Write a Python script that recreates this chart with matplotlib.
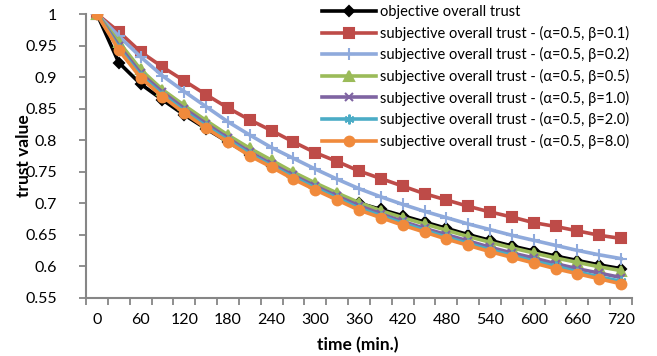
import numpy as np
import matplotlib
matplotlib.use("Agg")
import matplotlib.pyplot as plt
from matplotlib.ticker import FixedLocator, FuncFormatter

plt.rcParams['font.family'] = ['Lato', 'DejaVu Sans']

# time axis (min.)
time_min = np.arange(0, 721, 30)

objective = [1.000, 0.923, 0.889, 0.864, 0.840, 0.818, 0.797, 0.777, 0.759, 0.742, 0.727,
             0.713, 0.700, 0.690, 0.680, 0.670, 0.660, 0.650, 0.641, 0.632, 0.624,
             0.616, 0.609, 0.602, 0.596]
beta_01 = [1.000, 0.972, 0.940, 0.916, 0.894, 0.872, 0.851, 0.832, 0.815, 0.797, 0.780,
           0.766, 0.751, 0.739, 0.727, 0.715, 0.705, 0.695, 0.686, 0.678, 0.669,
           0.663, 0.656, 0.649, 0.644]
beta_02 = [1.000, 0.965, 0.932, 0.902, 0.877, 0.853, 0.829, 0.808, 0.788, 0.771, 0.754,
           0.738, 0.723, 0.710, 0.698, 0.687, 0.677, 0.667, 0.658, 0.649, 0.641,
           0.633, 0.625, 0.618, 0.612]
beta_05 = [1.000, 0.956, 0.912, 0.880, 0.855, 0.831, 0.808, 0.787, 0.768, 0.749, 0.732,
           0.716, 0.701, 0.688, 0.677, 0.667, 0.657, 0.647, 0.638, 0.629, 0.621,
           0.613, 0.606, 0.599, 0.593]
beta_10 = [1.000, 0.950, 0.906, 0.876, 0.850, 0.826, 0.803, 0.781, 0.762, 0.744, 0.727,
           0.711, 0.696, 0.683, 0.671, 0.660, 0.650, 0.640, 0.630, 0.621, 0.613,
           0.604, 0.596, 0.589, 0.582]
beta_20 = [1.000, 0.946, 0.902, 0.872, 0.846, 0.822, 0.800, 0.778, 0.759, 0.741, 0.724,
           0.708, 0.692, 0.680, 0.668, 0.657, 0.646, 0.636, 0.626, 0.617, 0.608,
           0.600, 0.591, 0.583, 0.576]
beta_80 = [1.000, 0.943, 0.899, 0.869, 0.843, 0.819, 0.797, 0.775, 0.757, 0.738, 0.721,
           0.705, 0.689, 0.677, 0.665, 0.654, 0.643, 0.633, 0.623, 0.614, 0.605,
           0.596, 0.588, 0.580, 0.572]

labels = ["objective overall trust",
          "subjective overall trust - (α=0.5, β=0.1)",
          "subjective overall trust - (α=0.5, β=0.2)",
          "subjective overall trust - (α=0.5, β=0.5)",
          "subjective overall trust - (α=0.5, β=1.0)",
          "subjective overall trust - (α=0.5, β=2.0)",
          "subjective overall trust - (α=0.5, β=8.0)"]
series = [objective, beta_01, beta_02, beta_05, beta_10, beta_20, beta_80]
colors = ["#000000", "#BE4B48", "#8FAADC", "#9BBB59", "#7F64A2", "#4BACC6", "#F08A3C"]
markers = ["D", "s", "+", "^", "x", (6, 2, 0), "o"]
msizes = [5, 6.5, 8, 6.5, 6, 7, 7]

fig = plt.figure(figsize=(6.57, 3.56), dpi=100)
ax = fig.add_axes([86/657, 1 - 297.7/356, (632-86)/657, (297.7-14)/356])

for y, lab, c, m, ms in zip(series, labels, colors, markers, msizes):
    ax.plot(time_min, y, color=c, lw=2.6, marker=m, ms=ms, mfc=c, mec=c,
            mew=1.5, label=lab, solid_joinstyle='round')

ax.set_xlim(-15, 735)
ax.set_ylim(0.55, 1.0)
ax.xaxis.set_major_locator(FixedLocator(np.arange(0, 721, 60)))
ax.xaxis.set_minor_locator(FixedLocator(np.arange(-15, 736, 30)))
ax.tick_params(axis='x', which='major', length=0, pad=11, labelsize=11.5)
ax.tick_params(axis='x', which='minor', length=5, width=1.3, color='#868686')
ax.set_yticks(np.arange(0.55, 1.001, 0.05))
ax.yaxis.set_major_formatter(FuncFormatter(lambda v, p: f"{v:.2f}".rstrip('0').rstrip('.')))
ax.tick_params(axis='y', length=5, width=1.3, color='#868686', pad=16, labelsize=11.5)

for s in ['top', 'right']:
    ax.spines[s].set_visible(False)
for s in ['left', 'bottom']:
    ax.spines[s].set_color('#868686')
    ax.spines[s].set_linewidth(1.5)

fig.text(358/657, 1 - 345/356, "time (min.)", ha='center', va='center',
         fontsize=12.5, fontweight='bold')
fig.text(24/657, 1 - 156/356, "trust value", ha='center', va='center',
         fontsize=12.5, fontweight='bold', rotation=90)

leg = fig.legend(loc='upper left', bbox_to_anchor=(322/657, 1 - 5/356), frameon=False,
                 fontsize=10.5, handlelength=3.7, handletextpad=0.3, labelspacing=0.45,
                 borderaxespad=0, borderpad=0)

fig.savefig("out.png", dpi=100)
